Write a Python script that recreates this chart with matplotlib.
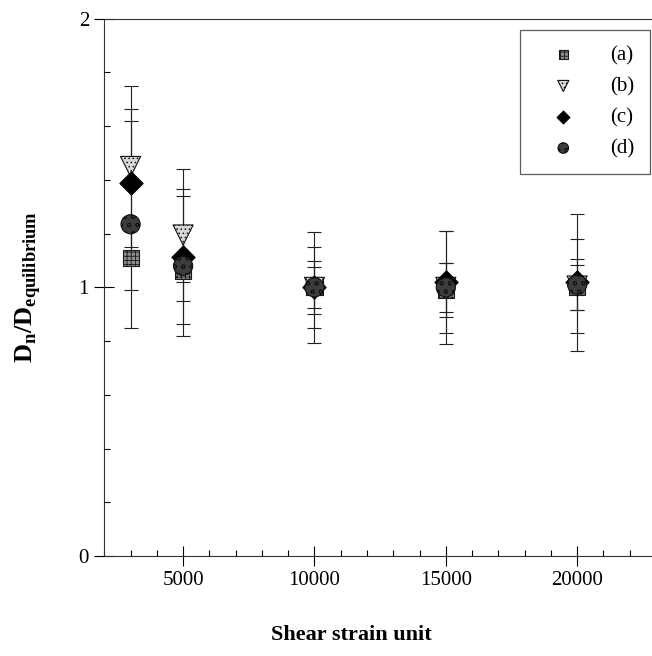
import numpy as np
import matplotlib.pyplot as plt
from matplotlib.ticker import MultipleLocator

plt.rcParams["font.family"] = "Liberation Serif"
plt.rcParams["mathtext.fontset"] = "custom"
plt.rcParams["mathtext.rm"] = "Liberation Serif"
plt.rcParams["mathtext.bf"] = "Liberation Serif:bold"
plt.rcParams["hatch.linewidth"] = 0.6

# shear strain units at which the size ratio was measured
strain = [3000, 5000, 10000, 15000, 20000]

# D_n / D_equilibrium and its error for the four runs
ratio_a = [1.11, 1.06, 1.00, 0.99, 1.00]
err_a = [0.12, 0.04, 0.10, 0.10, 0.085]
ratio_b = [1.45, 1.195, 1.00, 1.00, 1.005]
err_b = [0.30, 0.247, 0.207, 0.21, 0.175]
ratio_c = [1.39, 1.115, 1.00, 1.02, 1.02]
err_c = [0.275, 0.25, 0.075, 0.19, 0.255]
ratio_d = [1.235, 1.08, 1.00, 1.00, 1.01]
err_d = [0.385, 0.26, 0.15, 0.09, 0.095]

labels = ["(a)", "(b)", "(c)", "(d)"]

series = [
    (ratio_a, err_a, dict(marker="s", s=135, facecolor="#8c8c8c", edgecolor="#1a1a1a", hatch="++++")),
    (ratio_b, err_b, dict(marker="v", s=210, facecolor="#d8d8d8", edgecolor="#111111", hatch="....")),
    (ratio_c, err_c, dict(marker="D", s=140, facecolor="black", edgecolor="black")),
    (ratio_d, err_d, dict(marker="o", s=190, facecolor="#3c3c3c", edgecolor="#111111", hatch="oo")),
]

fig = plt.figure(figsize=(6.52, 6.56), dpi=100)
ax = fig.add_axes([0.16, 0.1524, 0.84, 0.819])

handles = []
for (vals, errs, style), lab in zip(series, labels):
    ax.errorbar(strain, vals, yerr=errs, fmt="none", ecolor="#222222",
                elinewidth=0.8, capsize=5, capthick=0.8, zorder=2)
    h = ax.scatter(strain, vals, linewidths=0.8, zorder=3, label=lab, **style)
    handles.append(h)

ax.set_xlim(2000, 22850)
ax.set_ylim(0, 2)
ax.xaxis.set_major_locator(MultipleLocator(5000))
ax.xaxis.set_minor_locator(MultipleLocator(1000))
ax.yaxis.set_major_locator(MultipleLocator(1))
ax.yaxis.set_minor_locator(MultipleLocator(0.2))
ax.set_xticks([5000, 10000, 15000, 20000])

ax.tick_params(which="major", direction="inout", length=14, width=0.8,
               labelsize=15, pad=4, top=False, right=False)
ax.tick_params(which="minor", direction="in", length=4, width=0.8,
               top=False, right=False)
ax.tick_params(axis="x", which="major", pad=4)

ax.spines["right"].set_visible(False)
for side in ["left", "bottom", "top"]:
    ax.spines[side].set_linewidth(0.8)
    ax.spines[side].set_color("#333333")

ax.set_xlabel("Shear strain unit", fontsize=16, fontweight="bold")
ax.xaxis.set_label_coords(0.452, -0.128)
ax.set_ylabel(r"$\mathbf{D}_\mathbf{n}\mathbf{/D}_\mathbf{equilibrium}$",
              fontsize=19)
ax.yaxis.set_label_coords(-0.112, 0.5)

leg = ax.legend(handles=handles, loc="upper right",
                bbox_to_anchor=(0.997, 0.954), bbox_transform=fig.transFigure,
                borderaxespad=0, fontsize=15, frameon=True, fancybox=False,
                edgecolor="#333333", handlelength=2.7, handletextpad=0.9,
                borderpad=0.75, labelspacing=0.55, markerscale=0.55,
                scatterpoints=1)
leg.get_frame().set_linewidth(0.9)

fig.savefig("out.png", dpi=100)
